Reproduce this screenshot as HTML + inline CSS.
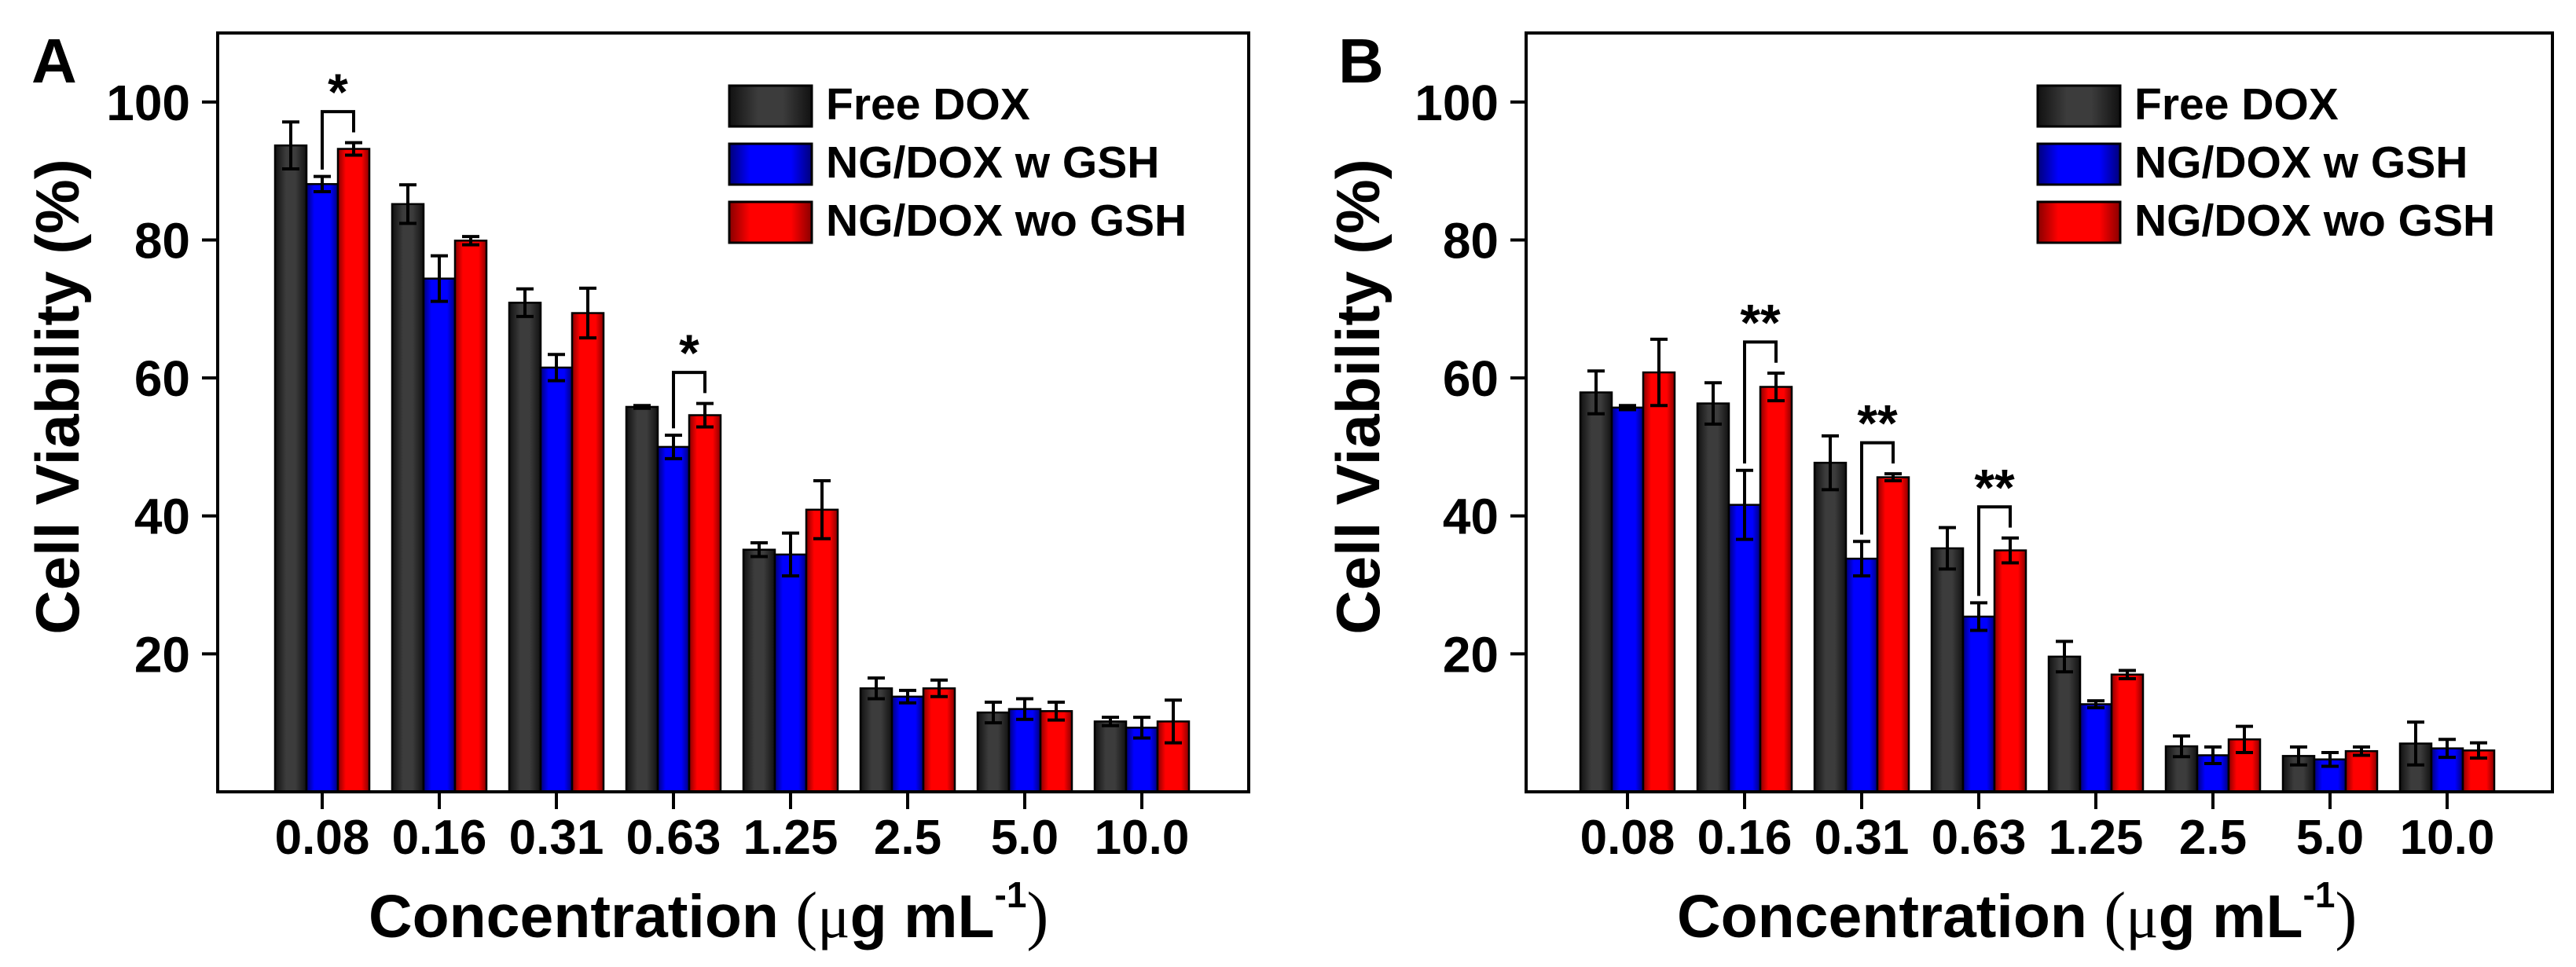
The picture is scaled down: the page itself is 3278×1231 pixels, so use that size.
<!DOCTYPE html>
<html><head><meta charset="utf-8">
<style>
html,body{margin:0;padding:0;background:#fff;}
svg{display:block;font-family:"Liberation Sans",Arial,sans-serif;}
</style></head>
<body>
<svg id="chart" width="3278" height="1231" viewBox="0 0 3278 1231" xmlns="http://www.w3.org/2000/svg">
<defs>
<linearGradient id="gBlack" x1="0" x2="1" y1="0" y2="0"><stop offset="0" stop-color="#111"/><stop offset="0.35" stop-color="#3c3c3c"/><stop offset="0.65" stop-color="#3c3c3c"/><stop offset="1" stop-color="#111"/></linearGradient>
<linearGradient id="gBlue" x1="0" x2="1" y1="0" y2="0"><stop offset="0" stop-color="#00007a"/><stop offset="0.25" stop-color="#0000ff"/><stop offset="0.75" stop-color="#0000ff"/><stop offset="1" stop-color="#00007a"/></linearGradient>
<linearGradient id="gRed" x1="0" x2="1" y1="0" y2="0"><stop offset="0" stop-color="#880000"/><stop offset="0.25" stop-color="#ff0000"/><stop offset="0.75" stop-color="#ff0000"/><stop offset="1" stop-color="#880000"/></linearGradient>
</defs>
</svg>
<script>
// ---- data ----
const categories = ["0.08","0.16","0.31","0.63","1.25","2.5","5.0","10.0"];
const yTicks = [20,40,60,80,100];
const seriesNames = ["Free DOX","NG/DOX w GSH","NG/DOX wo GSH"];
// Panel A
const aFree = [93.7,85.2,70.9,55.8,35.1,15.0,11.5,10.2];
const aFreeErr = [3.4,2.8,2.0,0.2,1.0,1.5,1.5,0.6];
const aWith = [88.1,74.4,61.5,50.0,34.4,13.8,12.0,9.3];
const aWithErr = [1.1,3.3,1.9,1.7,3.1,0.9,1.5,1.5];
const aWithout = [93.2,79.9,69.4,54.6,40.9,15.0,11.7,10.2];
const aWithoutErr = [0.9,0.6,3.6,1.7,4.2,1.2,1.3,3.1];
const aSig = [0,3];
const aSigLabels = ["*","*"];
// Panel B
const bFree = [57.9,56.3,47.7,35.3,19.6,6.6,5.2,7.0];
const bFreeErr = [3.1,3.0,3.9,3.0,2.2,1.5,1.3,3.1];
const bWith = [55.7,41.6,33.8,25.4,12.7,5.3,4.7,6.3];
const bWithErr = [0.3,5.0,2.5,2.0,0.5,1.2,1.0,1.3];
const bWithout = [60.8,58.7,45.6,35.0,17.0,7.6,5.9,6.0];
const bWithoutErr = [4.8,2.0,0.5,1.8,0.6,1.9,0.6,1.1];
const bSig = [1,2,3];
const bSigLabels = ["**","**","**"];

const NS = "http://www.w3.org/2000/svg";
const svg = document.getElementById("chart");
function mk(tag, attrs, parent, text){
  const e = document.createElementNS(NS, tag);
  for (const k in attrs) e.setAttribute(k, attrs[k]);
  if (text !== undefined) e.textContent = text;
  (parent||svg).appendChild(e);
  return e;
}
const fills = ["url(#gBlack)","url(#gBlue)","url(#gRed)"];
const keys = ["free","with-gsh","without-gsh"];

function panel(p){
  const g = mk("g", {});
  
  
  const yMin = 0, yMax = 110, top = 42, bottom = 1008;
  const y = v => bottom - (v - yMin) / (yMax - yMin) * (bottom - top);
  const x = i => p.x0 + i * 149;
  const bw = 40;
  const series = [p.free, p.withG, p.without];
  const errs = [p.freeE, p.withE, p.withoutE];
  series.forEach((vals, s) => {
    vals.forEach((v, i) => {
      const cx = x(i) + (s - 1) * bw;
      const r = mk("rect", {x: cx - bw/2, y: y(v), width: bw, height: y(0) - y(v), fill: fills[s], stroke: "#000", "stroke-width": 2.5}, g);
      
      
    });
  });
  series.forEach((vals, s) => {
    vals.forEach((v, i) => {
      const cx = x(i) + (s - 1) * bw;
      const e = errs[s][i];
      const eg = mk("path", {d: `M${cx},${y(v+e)}V${y(v-e)}M${cx-11},${y(v+e)}H${cx+11}M${cx-11},${y(v-e)}H${cx+11}`, stroke: "#000", "stroke-width": 4, fill: "none"}, g);
      
      
    });
  });
  p.sig.forEach((i, k) => {
    const lx = x(i), rx = x(i) + bw;
    const lTop = p.withG[i] + p.withE[i], rTop = p.without[i] + p.withoutE[i];
    const bt = Math.max(lTop, rTop) + 4.5;
    const br = mk("path", {d: `M${lx},${y(lTop+1)}V${y(bt)}H${rx}V${y(rTop+1.5)}`, stroke: "#000", "stroke-width": 4, fill: "none"}, g);
    
    
    const st = mk("text", {x: (lx + rx)/2, y: y(bt) - 2, "text-anchor": "middle", "font-size": 66, "font-weight": "bold"}, g, p.sigLabels[k]);
    
    
  });
  const fr = mk("rect", {x: p.left, y: top, width: p.right - p.left, height: bottom - top, fill: "none", stroke: "#000", "stroke-width": 4}, g);
  
  
  yTicks.forEach(t => {
    const tk = mk("line", {x1: p.left - 20, x2: p.left, y1: y(t), y2: y(t), stroke: "#000", "stroke-width": 4}, g);
    
    
    const tl = mk("text", {x: p.left - 35, y: y(t) + 23, "text-anchor": "end", "font-size": 64, "font-weight": "bold"}, g, String(t));
    
    
  });
  categories.forEach((c, i) => {
    const tk = mk("line", {x1: x(i), x2: x(i), y1: bottom, y2: bottom + 22, stroke: "#000", "stroke-width": 4}, g);
    
    
    const tl = mk("text", {x: x(i), y: 1087, "text-anchor": "middle", "font-size": 62, "font-weight": "bold"}, g, c);
    
    
  });
  const yt = mk("text", {transform: `translate(${p.ytX},505) rotate(-90)`, "text-anchor": "middle", "font-size": 78, "font-weight": "bold"}, g, "Cell Viability (%)");
  
  
  const xt = mk("text", {x: p.xtX, y: 1193, "font-size": 77, "font-weight": "bold"}, g);
  
  
  mk("tspan", {}, xt, "Concentration ");
  mk("tspan", {"font-family": "Liberation Serif, serif", "font-weight": "normal", "font-size": 84}, xt, "(");
  mk("tspan", {"font-family": "Liberation Serif, serif", "font-weight": "normal"}, xt, "\u03bc");
  mk("tspan", {}, xt, "g mL");
  mk("tspan", {"font-size": 46, dy: -38}, xt, "-1");
  mk("tspan", {"font-family": "Liberation Serif, serif", "font-weight": "normal", "font-size": 84, dy: 38}, xt, ")");
  const pl = mk("text", {x: p.letterX, y: 105, "font-size": 80, "font-weight": "bold"}, g, p.id.toUpperCase());
  
  
  seriesNames.forEach((n, s) => {
    const lg = mk("g", {}, g);
    
    
    mk("rect", {x: p.legX, y: 109 + s * 74, width: 105, height: 52, fill: fills[s], stroke: "#000", "stroke-width": 3}, lg);
    mk("text", {x: p.legX + 123, y: 152 + s * 74, "font-size": 57, "font-weight": "bold"}, lg, n);
  });
}

panel({id: "a", left: 277, right: 1589, x0: 410, free: aFree, freeE: aFreeErr, withG: aWith, withE: aWithErr, without: aWithout, withoutE: aWithoutErr, sig: aSig, sigLabels: aSigLabels, ytX: 100, xtX: 469, letterX: 40, legX: 928});
panel({id: "b", left: 1942, right: 3248, x0: 2071, free: bFree, freeE: bFreeErr, withG: bWith, withE: bWithErr, without: bWithout, withoutE: bWithoutErr, sig: bSig, sigLabels: bSigLabels, ytX: 1755, xtX: 2134, letterX: 1703, legX: 2593});
</script>
</body></html>
